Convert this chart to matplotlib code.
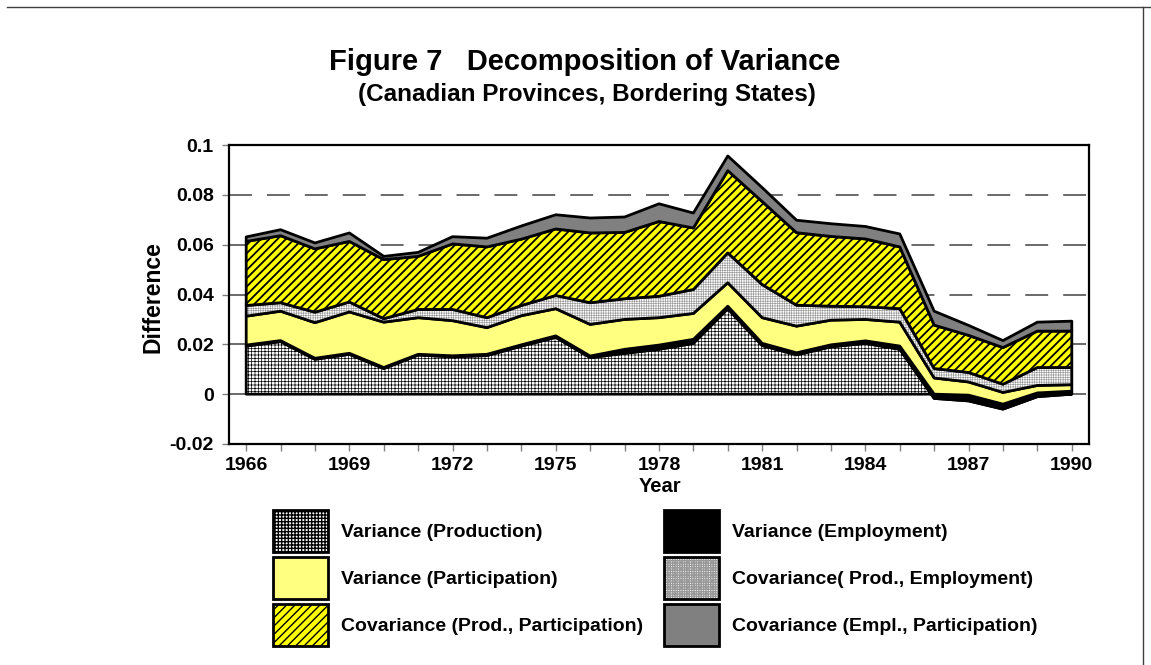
import numpy as np
import matplotlib
matplotlib.use("Agg")
import matplotlib.pyplot as plt
from matplotlib.patches import Patch
from matplotlib.legend_handler import HandlerTuple

plt.rcParams['font.family'] = ['Liberation Sans', 'DejaVu Sans']
plt.rcParams['font.weight'] = 'bold'
plt.rcParams['lines.scale_dashes'] = False

# data (stacked in this order, bottom to top)
years = np.arange(1966, 1991)
prod = [0.0193, 0.0211, 0.0140, 0.0160, 0.0103, 0.0157, 0.0150, 0.0155, 0.0193, 0.0228,
        0.0147, 0.0164, 0.0180, 0.0204, 0.0343, 0.0195, 0.0158, 0.0190, 0.0204, 0.0180,
        -0.0017, -0.0027, -0.0060, -0.0010, 0.0000]
emp = [0.0004, 0.0004, 0.0004, 0.0004, 0.0004, 0.0003, 0.0004, 0.0005, 0.0005, 0.0006,
       0.0006, 0.0016, 0.0017, 0.0016, 0.0010, 0.0009, 0.0008, 0.0008, 0.0010, 0.0013,
       0.0017, 0.0023, 0.0020, 0.0015, 0.0012]
part = [0.0116, 0.0118, 0.0143, 0.0166, 0.0182, 0.0147, 0.0141, 0.0107, 0.0117, 0.0109,
        0.0127, 0.0120, 0.0110, 0.0104, 0.0094, 0.0103, 0.0107, 0.0099, 0.0086, 0.0096,
        0.0065, 0.0053, 0.0047, 0.0030, 0.0026]
cov_pe = [0.0043, 0.0034, 0.0042, 0.0040, 0.0014, 0.0033, 0.0045, 0.0040, 0.0041, 0.0053,
          0.0087, 0.0083, 0.0086, 0.0096, 0.0120, 0.0133, 0.0084, 0.0056, 0.0051, 0.0054,
          0.0038, 0.0038, 0.0033, 0.0072, 0.0069]
cov_pp = [0.0257, 0.0269, 0.0254, 0.0243, 0.0237, 0.0213, 0.0263, 0.0284, 0.0266, 0.0267,
          0.0280, 0.0266, 0.0300, 0.0247, 0.0330, 0.0333, 0.0291, 0.0280, 0.0272, 0.0248,
          0.0174, 0.0149, 0.0147, 0.0146, 0.0146]
cov_ep = [0.0018, 0.0024, 0.0024, 0.0034, 0.0013, 0.0016, 0.0029, 0.0035, 0.0053, 0.0057,
          0.0060, 0.0062, 0.0071, 0.0060, 0.0059, 0.0056, 0.0050, 0.0051, 0.0050, 0.0052,
          0.0056, 0.0040, 0.0028, 0.0036, 0.0040]

labels = ['Variance (Production)', 'Variance (Employment)', 'Variance (Participation)',
          'Covariance( Prod., Employment)', 'Covariance (Prod., Participation)',
          'Covariance (Empl., Participation)']
yticks = [-0.02, 0, 0.02, 0.04, 0.06, 0.08, 0.1]
ytick_labels = ['-0.02', '0', '0.02', '0.04', '0.06', '0.08', '0.1']
xtick_years = list(range(1966, 1991, 3))

# face colour, hatch, hatch colour, hatch line width
styles = [
    ('white', '+++++', 'black', 0.5),
    ('black', None, 'black', 1.0),
    ('#ffff80', None, '#ffff80', 1.0),
    ('white', '+++++++', '#999999', 0.45),
    ('#ffff00', '////', 'black', 1.3),
    ('#808080', None, '#808080', 1.0),
]

W, H = 1151, 665
fig = plt.figure(figsize=(W / 100, H / 100), dpi=100)
ax = fig.add_axes([229 / W, 1 - 444 / H, (1089 - 229) / W, (444 - 145) / H])

series = np.array([prod, emp, part, cov_pe, cov_pp, cov_ep])
cum = np.cumsum(series, axis=0)
base = np.zeros(len(years))
handles = []
for i, (face, hatch, hcol, hlw) in enumerate(styles):
    top = cum[i]
    plt.rcParams['hatch.linewidth'] = hlw
    ax.fill_between(years, base, top, facecolor=face, hatch=hatch, edgecolor=hcol,
                    linewidth=0, zorder=3 + i)
    ax.fill_between(years, base, top, facecolor='none', edgecolor='black',
                    linewidth=2.0, zorder=3 + i)
    h1 = Patch(facecolor=face, hatch=hatch, edgecolor=hcol, linewidth=0)
    h2 = Patch(facecolor='none', edgecolor='black', linewidth=2.0)
    handles.append((h1, h2))
    base = top

ax.set_xlim(1965.5, 1990.5)
ax.set_ylim(-0.02, 0.1)
ax.set_yticks(yticks)
ax.set_yticklabels(ytick_labels)
ax.set_xticks(xtick_years)
ax.set_xticks(years, minor=True)
ax.tick_params(axis='both', which='both', direction='out', length=5, width=1,
               color='#808080', labelsize=14, pad=4)
ax.tick_params(axis='y', pad=6)
ax.grid(axis='y', color='#505050', linewidth=1.2, dashes=(16.5, 10.8))
ax.set_axisbelow(True)
for s in ax.spines.values():
    s.set_linewidth(1.6)
    s.set_color('black')
    s.set_zorder(20)

fig.text(585 / W, 1 - 62 / H, 'Figure 7   Decomposition of Variance',
         ha='center', va='center', fontsize=21, fontweight='bold')
fig.text(587 / W, 1 - 94 / H, '(Canadian Provinces, Bordering States)',
         ha='center', va='center', fontsize=17.5, fontweight='bold')
fig.text(153 / W, 1 - 297 / H, 'Difference', rotation=90, ha='center', va='center',
         fontsize=16.5, fontweight='bold')
fig.text(660 / W, 1 - 486 / H, 'Year', ha='center', va='center',
         fontsize=14.5, fontweight='bold')

# legend: swatches 55 x 42 px, row pitch 47 px
order = [0, 2, 4, 1, 3, 5]
fig.legend([handles[i] for i in order], [labels[i] for i in order], ncol=2,
           loc='upper left', bbox_to_anchor=(273 / W, 1 - 510 / H), frameon=False,
           prop={'size': 14, 'weight': 'bold'}, handlelength=2.85, handleheight=2.946,
           labelspacing=0.257, handletextpad=0.67, columnspacing=1.04,
           borderpad=0, borderaxespad=0,
           handler_map={tuple: HandlerTuple(ndivide=1, pad=0)})

# outer frame of the picture
fig.add_artist(plt.Line2D([7 / W, 1], [1 - 7 / H, 1 - 7 / H], color='#404040', lw=1))
fig.add_artist(plt.Line2D([1143 / W, 1143 / W], [0, 1 - 7 / H], color='#404040', lw=1))

fig.savefig('out.png', dpi=100)
